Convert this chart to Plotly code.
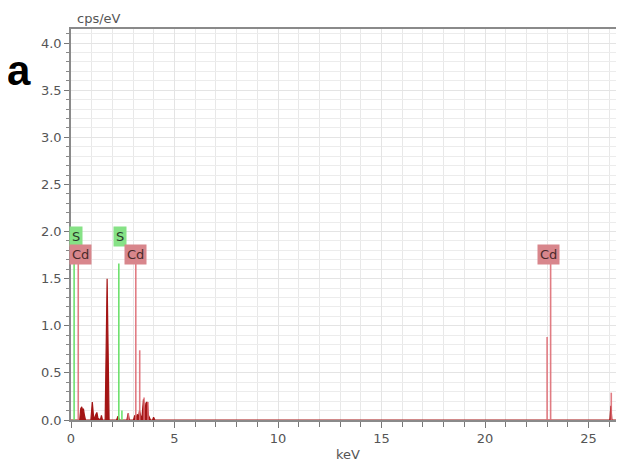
import plotly.graph_objects as go

# Spectrum (keV, cps/eV)
spec_kev = [0.0, 0.42, 0.47, 0.52, 0.56, 0.60, 0.64, 0.70, 0.96, 1.03, 1.08, 1.14, 1.20, 1.25, 1.30, 1.42, 1.47, 1.52,
            1.65, 1.745, 1.84, 2.20, 2.27, 2.34, 2.70, 2.76, 2.82, 3.02, 3.08, 3.14, 3.20, 3.26, 3.31, 3.37, 3.43,
            3.50, 3.55, 3.62, 3.68, 3.74, 3.84, 3.94, 3.99, 4.05, 4.2, 26.03, 26.08, 26.13, 26.6]
spec_cps = [0.0, 0.0, 0.12, 0.14, 0.10, 0.12, 0.06, 0.0, 0.0, 0.19, 0.06, 0.0, 0.06, 0.08, 0.02, 0.0, 0.05, 0.0,
            0.0, 1.50, 0.0, 0.0, 0.04, 0.0, 0.0, 0.07, 0.0, 0.0, 0.05, 0.02, 0.06, 0.03, 0.10, 0.04, 0.03,
            0.22, 0.06, 0.18, 0.19, 0.05, 0.0, 0.0, 0.03, 0.0, 0.0, 0.0, 0.15, 0.0, 0.0]

# Element marker lines
s_lines_kev = [0.15, 2.31, 2.46]
s_lines_h = [1.66, 1.66, 0.10]
cd_lines_kev = [0.35, 2.77, 3.13, 3.32, 3.53, 3.72, 23.0, 23.17, 26.1]
cd_lines_h = [1.66, 0.07, 1.66, 0.74, 0.24, 0.19, 0.88, 1.66, 0.29]

# Labels
s_label_kev = [0.22, 2.35]
cd_label_kev = [0.45, 3.13, 23.05]
s_label_y = 1.95
cd_label_y = 1.755

x_ticks = [0, 5, 10, 15, 20, 25]
y_ticks = [0.0, 0.5, 1.0, 1.5, 2.0, 2.5, 3.0, 3.5, 4.0]


def seg(xs, hs):
    X, Y = [], []
    for x, h in zip(xs, hs):
        X += [x, x, None]
        Y += [0, h, None]
    return X, Y


fig = go.Figure()
fig.add_trace(go.Scatter(x=spec_kev, y=spec_cps, mode="lines", fill="tozeroy",
                         line=dict(color="#a31515", width=1.2), fillcolor="#a31515",
                         hoverinfo="skip", showlegend=False))
cx, cy = seg(cd_lines_kev, cd_lines_h)
fig.add_trace(go.Scatter(x=cx, y=cy, mode="lines", line=dict(color="rgba(222,110,118,0.9)", width=1.6),
                         showlegend=False, hoverinfo="skip"))
sx, sy = seg(s_lines_kev, s_lines_h)
fig.add_trace(go.Scatter(x=sx, y=sy, mode="lines", line=dict(color="#6ee06e", width=1.6),
                         showlegend=False, hoverinfo="skip"))

ann = []
for x in s_label_kev:
    ann.append(dict(x=x, y=s_label_y, xref="x", yref="y", text="S", showarrow=False,
                    bgcolor="#86e286", borderpad=2, font=dict(family="DejaVu Sans", size=13, color="#2a3a2a")))
for x in cd_label_kev:
    ann.append(dict(x=x, y=cd_label_y, xref="x", yref="y", text="Cd", showarrow=False,
                    bgcolor="#d8868c", borderpad=2, font=dict(family="DejaVu Sans", size=13, color="#4a2a2a")))

# Plot area in page pixels: x 71..621, y 29..420 (page has 8px body margin)
W, H = 550, 391
ann.append(dict(x=(75 - 71) / W, y=(420 - 18) / H, xref="paper", yref="paper", text="cps/eV",
                showarrow=False, xanchor="left", yanchor="middle",
                font=dict(family="DejaVu Sans", size=13, color="#555")))
ann.append(dict(x=(348 - 71) / W, y=(420 - 454) / H, xref="paper", yref="paper", text="keV",
                showarrow=False, xanchor="center", yanchor="middle",
                font=dict(family="DejaVu Sans", size=13, color="#555")))
ann.append(dict(x=(19 - 71) / W, y=(420 - 71) / H, xref="paper", yref="paper", text="<b>a</b>",
                showarrow=False, xanchor="center", yanchor="middle",
                font=dict(family="Liberation Sans", size=42, color="#000")))

fig.update_layout(
    width=616, height=455,
    margin=dict(l=63, r=3, t=21, b=43, autoexpand=False),
    paper_bgcolor="white", plot_bgcolor="white",
    annotations=ann,
    font=dict(family="DejaVu Sans", size=13, color="#555"),
)
fig.update_xaxes(range=[0, 26.57], tickvals=x_ticks, ticktext=[str(v) for v in x_ticks],
                 ticks="outside", ticklen=6, tickcolor="#777", tickwidth=1.3,
                 showline=True, linecolor="#8a8a8a", linewidth=1.5, mirror=True,
                 showgrid=True, gridcolor="#e4e4e4", gridwidth=1, zeroline=False,
                 minor=dict(dtick=1, ticks="outside", ticklen=5, tickcolor="#777",
                            showgrid=True, gridcolor="#e8e8e8"))
fig.update_yaxes(range=[0, 4.15], tickvals=y_ticks, ticktext=[f"{v:.1f}" for v in y_ticks],
                 ticks="outside", ticklen=5, tickcolor="#777", tickwidth=1.3,
                 showline=True, linecolor="#8a8a8a", linewidth=1.5, mirror=True,
                 showgrid=True, gridcolor="#e4e4e4", gridwidth=1, zeroline=False,
                 minor=dict(dtick=0.1, ticks="outside", ticklen=3, tickcolor="#888",
                            showgrid=True, gridcolor="#ececec"))

fig.write_html("out.html")
